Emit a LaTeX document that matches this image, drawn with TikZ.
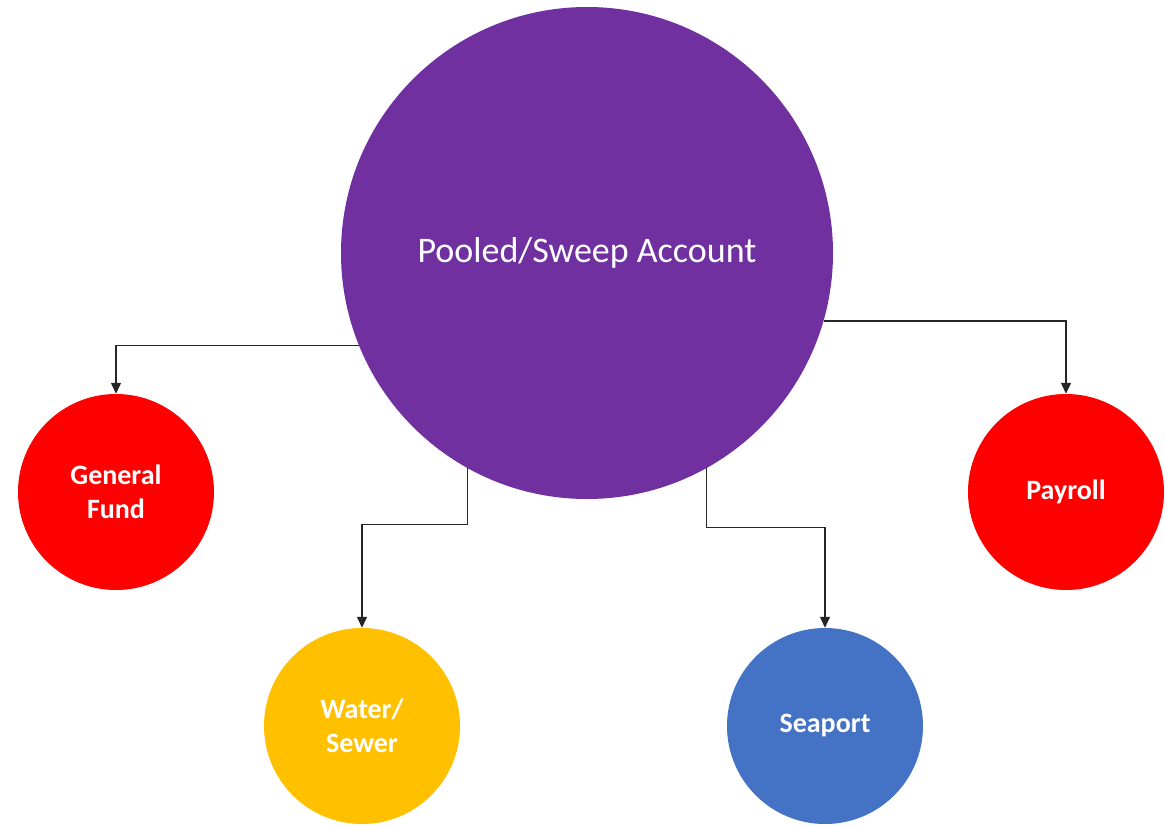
\documentclass[tikz,border=0pt]{standalone}
\usepackage{fontspec}
\setmainfont{Carlito}
\usepackage{tikz}
\usetikzlibrary{arrows.meta, shapes, calc, positioning}
\definecolor{pooledpurple}{HTML}{7030A0}
\definecolor{fundred}{HTML}{FF0000}
\definecolor{wateryellow}{HTML}{FFC000}
\definecolor{seaportblue}{HTML}{4472C4}

\begin{document}
\begin{tikzpicture}[x=1pt, y=1pt]
	\tikzstyle{account_style}=[circle, fill=pooledpurple, text=white, minimum size=492pt, inner sep=0pt, font=\fontsize{36}{43}\selectfont]
	\tikzstyle{fund_style}=[circle, text=white, minimum size=196pt, inner sep=0pt, align=center, font=\fontsize{28}{34}\selectfont\bfseries]
	\tikzstyle{link_style}=[draw=black!85, line width=1.3pt, -{Triangle[width=10pt, length=11pt]}]
	\useasboundingbox (0,0) rectangle (1165,-827);
	% pooled account
	\node at (587, -253) [account_style] (pooled) {Pooled/Sweep Account};
	% funds
	\node at (116, -492) [fund_style, fill=fundred] (general) {General\\Fund};
	\node at (1066, -492) [fund_style, fill=fundred] (payroll) {Payroll};
	\node at (362, -726) [fund_style, fill=wateryellow] (water) {Water/\\Sewer};
	\node at (825, -726) [fund_style, fill=seaportblue] (seaport) {Seaport};
	% connect: pooled -> funds
	\draw[link_style] (pooled.202.5) -| (general.north);
	\draw[link_style] (pooled.-16.5) -| (payroll.north);
	\draw[link_style] (pooled.241.6) -- ++(0, -56) -| (water.north);
	\draw[link_style] (pooled.-61) -- ++(0, -59) -| (seaport.north);
\end{tikzpicture}
\end{document}
